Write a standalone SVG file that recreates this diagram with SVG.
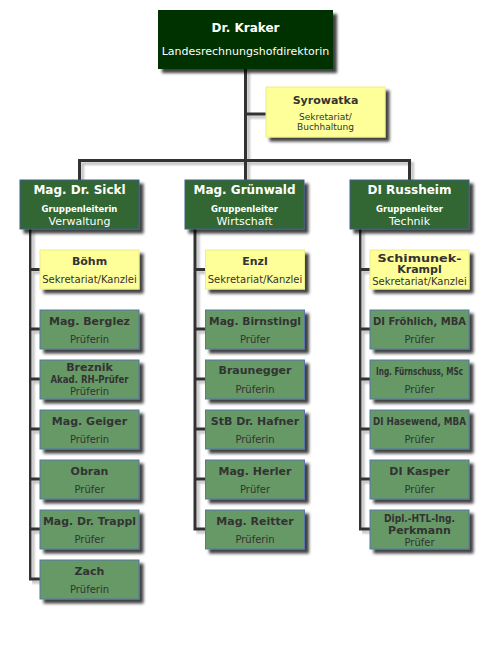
<svg xmlns="http://www.w3.org/2000/svg" width="490" height="663" viewBox="0 0 490 663">
<defs>
<filter id="sh" x="-10%" y="-10%" width="130%" height="140%">
<feGaussianBlur in="SourceAlpha" stdDeviation="1.6"/>
<feOffset dx="4" dy="4" result="o"/>
<feComponentTransfer><feFuncA type="linear" slope="0.75"/></feComponentTransfer>
<feMerge><feMergeNode/><feMergeNode in="SourceGraphic"/></feMerge>
</filter>
<filter id="lsh" x="-10%" y="-10%" width="130%" height="130%">
<feGaussianBlur in="SourceAlpha" stdDeviation="1.2"/>
<feOffset dx="3" dy="3" result="o"/>
<feComponentTransfer><feFuncA type="linear" slope="0.25"/></feComponentTransfer>
<feMerge><feMergeNode/><feMergeNode in="SourceGraphic"/></feMerge>
</filter>
</defs>
<style>
text{font-family:"DejaVu Sans","Liberation Sans",sans-serif;text-anchor:middle}
.top{fill:#023302;filter:url(#sh)}
.head{fill:#336633;stroke:#3d5f8f;stroke-width:1;filter:url(#sh)}
.sec{fill:#ffff99;stroke:#eeee88;stroke-width:1;filter:url(#sh)}
.mem{fill:#669966;stroke:#5577aa;stroke-width:1;filter:url(#sh)}
.wt{fill:#ffffff;font-weight:bold;font-size:12px}
.ws{fill:#ffffff;font-size:11px}
.wg{fill:#ffffff;font-weight:bold;font-size:8.5px}
.dt{fill:#333333;font-weight:bold;font-size:11px}
.ds{fill:#333333;font-size:10px}
.ys{fill:#333333;font-size:9px}
.conn{fill:none;stroke:#333333;stroke-width:3;filter:url(#lsh)}
</style>
<rect width="490" height="663" fill="#ffffff"/>
<g id="connectors">
<path class="conn" d="M245.5,69 V180 M245.5,114 H266 M79.5,180 V160.5 H409.5 V180"/>
<path class="conn" d="M30,229 V579 H40 M30,269.5 H40 M30,329 H40 M30,379 H40 M30,429 H40 M30,479 H40 M30,529 H40"/>
<path class="conn" d="M195,229 V529 H205.5 M195,269.5 H205.5 M195,329 H205.5 M195,379 H205.5 M195,429 H205.5 M195,479 H205.5"/>
<path class="conn" d="M360,229 V529 H370 M360,269.5 H370 M360,329 H370 M360,379 H370 M360,429 H370 M360,479 H370"/>
</g>
<g id="kraker">
<rect class="top" x="158" y="10" width="175" height="59"/>
<text class="wt" x="245.5" y="32">Dr. Kraker</text>
<text class="ws" x="245.5" y="55">Landesrechnungshofdirektorin</text>
</g>
<g id="syrowatka">
<rect class="sec" x="266" y="87" width="119" height="50"/>
<text class="dt" x="325.5" y="104">Syrowatka</text>
<text class="ys" x="325.5" y="119.5">Sekretariat/</text>
<text class="ys" x="325.5" y="130">Buchhaltung</text>
</g>
<g id="sickl">
<rect class="head" x="20" y="180" width="119" height="49"/>
<text class="wt" x="79.5" y="194">Mag. Dr. Sickl</text>
<text class="wg" x="79.5" y="211.5">Gruppenleiterin</text>
<text class="ws" x="79.5" y="224.5">Verwaltung</text>
</g>
<g id="gruenwald">
<rect class="head" x="185" y="180" width="119" height="49"/>
<text class="wt" x="244.5" y="194">Mag. Grünwald</text>
<text class="wg" x="244.5" y="211.5">Gruppenleiter</text>
<text class="ws" x="244.5" y="224.5">Wirtschaft</text>
</g>
<g id="russheim">
<rect class="head" x="350" y="180" width="119" height="49"/>
<text class="wt" x="409.5" y="194">DI Russheim</text>
<text class="wg" x="409.5" y="211.5">Gruppenleiter</text>
<text class="ws" x="409.5" y="224.5">Technik</text>
</g>
<g id="boehm">
<rect class="sec" x="40" y="250" width="99" height="39"/>
<text class="dt" x="89.5" y="265">Böhm</text>
<text class="ds" x="89.5" y="282.5">Sekretariat/Kanzlei</text>
</g>
<g id="berglez">
<rect class="mem" x="40" y="310" width="99" height="39"/>
<text class="dt" x="89.5" y="324.5">Mag. Berglez</text>
<text class="ds" x="89.5" y="343">Prüferin</text>
</g>
<g id="breznik">
<rect class="mem" x="40" y="360" width="99" height="39"/>
<text class="dt" x="89.5" y="370.7">Breznik</text>
<text class="dt" x="89.5" y="383.3" textLength="78" lengthAdjust="spacingAndGlyphs">Akad. RH-Prüfer</text>
<text class="ds" x="89.5" y="395">Prüferin</text>
</g>
<g id="geiger">
<rect class="mem" x="40" y="410" width="99" height="39"/>
<text class="dt" x="89.5" y="424.5">Mag. Geiger</text>
<text class="ds" x="89.5" y="443">Prüferin</text>
</g>
<g id="obran">
<rect class="mem" x="40" y="460" width="99" height="39"/>
<text class="dt" x="89.5" y="474.5">Obran</text>
<text class="ds" x="89.5" y="493">Prüfer</text>
</g>
<g id="trappl">
<rect class="mem" x="40" y="510" width="99" height="39"/>
<text class="dt" x="89.5" y="524.5" textLength="93" lengthAdjust="spacingAndGlyphs">Mag. Dr. Trappl</text>
<text class="ds" x="89.5" y="543">Prüfer</text>
</g>
<g id="zach">
<rect class="mem" x="40" y="560" width="99" height="39"/>
<text class="dt" x="89.5" y="574.5">Zach</text>
<text class="ds" x="89.5" y="593">Prüferin</text>
</g>
<g id="enzl">
<rect class="sec" x="205.5" y="250" width="99" height="39"/>
<text class="dt" x="255" y="265">Enzl</text>
<text class="ds" x="255" y="282.5">Sekretariat/Kanzlei</text>
</g>
<g id="birnstingl">
<rect class="mem" x="205.5" y="310" width="99" height="39"/>
<text class="dt" x="255" y="324.5" textLength="92" lengthAdjust="spacingAndGlyphs">Mag. Birnstingl</text>
<text class="ds" x="255" y="343">Prüfer</text>
</g>
<g id="braunegger">
<rect class="mem" x="205.5" y="360" width="99" height="39"/>
<text class="dt" x="255" y="374">Braunegger</text>
<text class="ds" x="255" y="393">Prüferin</text>
</g>
<g id="hafner">
<rect class="mem" x="205.5" y="410" width="99" height="39"/>
<text class="dt" x="255" y="424.5">StB Dr. Hafner</text>
<text class="ds" x="255" y="443">Prüferin</text>
</g>
<g id="herler">
<rect class="mem" x="205.5" y="460" width="99" height="39"/>
<text class="dt" x="255" y="474.5">Mag. Herler</text>
<text class="ds" x="255" y="493">Prüfer</text>
</g>
<g id="reitter">
<rect class="mem" x="205.5" y="510" width="99" height="39"/>
<text class="dt" x="255" y="524.5">Mag. Reitter</text>
<text class="ds" x="255" y="543">Prüferin</text>
</g>
<g id="schimunek">
<rect class="sec" x="370" y="250" width="99" height="39"/>
<text class="dt" x="419.5" y="261.7" textLength="84" lengthAdjust="spacingAndGlyphs">Schimunek-</text>
<text class="dt" x="419.5" y="273.3">Krampl</text>
<text class="ds" x="419.5" y="285">Sekretariat/Kanzlei</text>
</g>
<g id="froehlich">
<rect class="mem" x="370" y="310" width="99" height="39"/>
<text class="dt" x="419.5" y="324.5" textLength="93" lengthAdjust="spacingAndGlyphs">DI Fröhlich, MBA</text>
<text class="ds" x="419.5" y="343">Prüfer</text>
</g>
<g id="fuernschuss">
<rect class="mem" x="370" y="360" width="99" height="39"/>
<text class="dt" x="0" y="0" transform="translate(419.5,374.5) scale(0.665,1)">Ing. Fürnschuss, MSc</text>
<text class="ds" x="419.5" y="393">Prüfer</text>
</g>
<g id="hasewend">
<rect class="mem" x="370" y="410" width="99" height="39"/>
<text class="dt" x="419.5" y="424.5" textLength="93" lengthAdjust="spacingAndGlyphs">DI Hasewend, MBA</text>
<text class="ds" x="419.5" y="443">Prüfer</text>
</g>
<g id="kasper">
<rect class="mem" x="370" y="460" width="99" height="39"/>
<text class="dt" x="419.5" y="474.5">DI Kasper</text>
<text class="ds" x="419.5" y="493">Prüfer</text>
</g>
<g id="perkmann">
<rect class="mem" x="370" y="510" width="99" height="39"/>
<text class="dt" x="419.5" y="521.7" textLength="71" lengthAdjust="spacingAndGlyphs">Dipl.-HTL-Ing.</text>
<text class="dt" x="419.5" y="534.3">Perkmann</text>
<text class="ds" x="419.5" y="546">Prüfer</text>
</g>
</svg>
